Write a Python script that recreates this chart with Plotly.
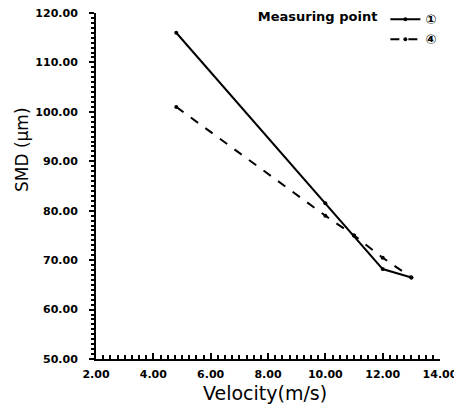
import plotly.graph_objects as go

velocity_p1 = [4.8, 10.0, 11.0, 12.0, 13.0]
smd_p1 = [116.0, 81.5, 75.0, 68.2, 66.5]
velocity_p4 = [4.8, 10.0, 11.0, 12.0, 13.0]
smd_p4 = [101.0, 79.0, 75.0, 70.5, 66.5]

x_ticks = [2, 4, 6, 8, 10, 12, 14]
y_ticks = [50, 60, 70, 80, 90, 100, 110, 120]

fig = go.Figure()
fig.add_trace(go.Scatter(x=velocity_p1, y=smd_p1, mode="lines+markers", name="<b>①</b>",
                         line=dict(color="black", width=2),
                         marker=dict(color="black", size=4)))
fig.add_trace(go.Scatter(x=velocity_p4, y=smd_p4, mode="lines+markers", name="<b>④</b>",
                         line=dict(color="black", width=2, dash="dash"),
                         marker=dict(color="black", size=4)))

tickfont = dict(family="DejaVu Sans", size=11, color="black", weight="bold")
fig.update_layout(
    width=462, height=404,
    margin=dict(l=88, r=30, t=5, b=53, autoexpand=False),
    paper_bgcolor="white", plot_bgcolor="white",
    font=dict(family="DejaVu Sans", color="black"),
    legend=dict(x=1.005, y=1.025, xanchor="right", yanchor="top",
                bgcolor="rgba(0,0,0,0)",
                title=dict(text="<b>Measuring point</b>", side="left",
                           font=dict(family="DejaVu Sans", size=13)),
                font=dict(size=13), tracegroupgap=0, itemwidth=30),
    showlegend=True,
    annotations=[
        dict(text="SMD (μm)", xref="paper", yref="paper", x=-0.215, y=0.604,
             textangle=-90, showarrow=False, xanchor="center", yanchor="middle",
             font=dict(family="DejaVu Sans", size=17)),
        dict(text="Velocity(m/s)", xref="paper", yref="paper", x=0.491, y=-0.098,
             showarrow=False, xanchor="center", yanchor="middle",
             font=dict(family="DejaVu Sans", size=19)),
    ],
)
fig.update_xaxes(range=[2, 14], tickvals=x_ticks, tickformat=".2f",
                 showline=True, linecolor="black", linewidth=2,
                 ticks="inside", ticklen=6, tickcolor="black", tickwidth=1.5,
                 minor=dict(dtick=0.25, ticks="inside", ticklen=4, tickcolor="black"),
                 showgrid=False, zeroline=False, tickfont=tickfont,
                 ticklabelstandoff=4, ticklabeloverflow="allow")
fig.update_yaxes(range=[50, 120], tickvals=y_ticks, tickformat=".2f",
                 showline=True, linecolor="black", linewidth=2,
                 ticks="outside", ticklen=5, tickcolor="black", tickwidth=1.5,
                 minor=dict(dtick=1, ticks="outside", ticklen=3, tickcolor="black"),
                 showgrid=False, zeroline=False, tickfont=tickfont,
                 ticklabelstandoff=9, ticklabeloverflow="allow")

fig.write_html("out.html")
